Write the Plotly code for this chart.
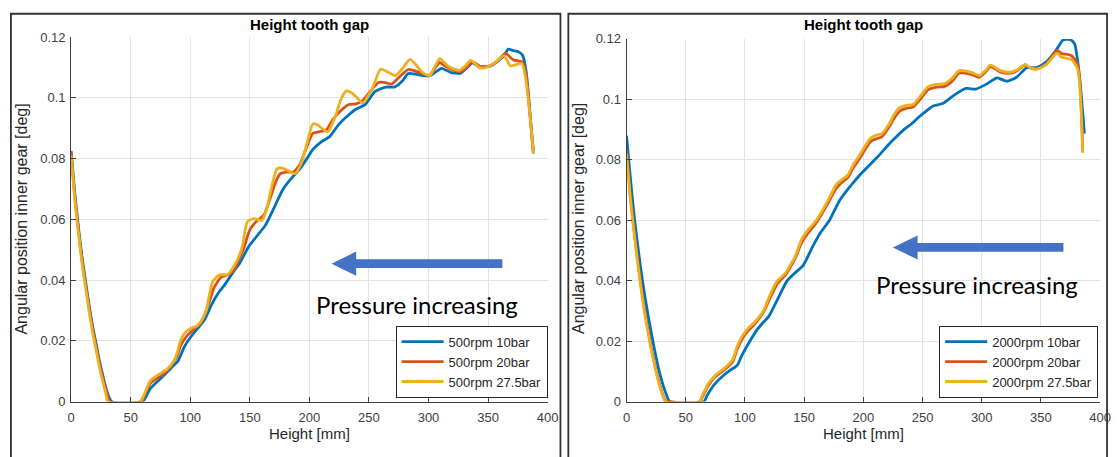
import plotly.graph_objects as go

W, H = 1120, 457

# ---------------- data ----------------
x_ticks = [0, 50, 100, 150, 200, 250, 300, 350, 400]
x_ticktext = ["0", "50", "100", "150", "200", "250", "300", "350", "400"]
y_ticks = [0, 0.02, 0.04, 0.06, 0.08, 0.10, 0.12]
y_ticktext = ["0", "0.02", "0.04", "0.06", "0.08", "0.1", "0.12"]

left_names = ["500rpm 10bar", "500rpm 20bar", "500rpm 27.5bar"]
right_names = ["2000rpm 10bar", "2000rpm 20bar", "2000rpm 27.5bar"]

L_blue_x = [0, 3, 6, 9, 12, 15, 18, 21, 24, 27, 30, 34, 60, 62, 66, 73, 80, 85, 90, 95, 101, 106,
            112, 118, 124, 129, 135, 142, 149, 156, 163, 170, 178, 185, 192, 198, 203, 210, 217, 225,
            232, 239, 247, 255, 264, 272, 278, 283, 291, 301, 306, 311, 319, 327, 332, 337, 342, 352,
            358, 363, 367, 371, 375, 379, 382, 385, 388]
L_blue_y = [0.0825, 0.069, 0.058, 0.048, 0.040, 0.032, 0.025, 0.019, 0.013, 0.008, 0.0035, 0,
            0, 0.001, 0.004, 0.0068, 0.0095, 0.0115, 0.0135, 0.018, 0.0216, 0.024,
            0.0269, 0.032, 0.036, 0.0385, 0.042, 0.0459, 0.051, 0.0545, 0.058, 0.0635,
            0.070, 0.0735, 0.0766, 0.080, 0.083, 0.0855, 0.0872, 0.0914, 0.094, 0.0962,
            0.0978, 0.102, 0.1035, 0.1036, 0.1055, 0.108, 0.1076, 0.1072, 0.1085, 0.1097,
            0.1083, 0.1081, 0.1098, 0.1115, 0.1103, 0.1105, 0.112, 0.1136, 0.116, 0.1155,
            0.1152, 0.114, 0.1085, 0.096, 0.0825]

L_red_x = [0, 3, 6, 9, 12, 15, 18, 21, 24, 27, 30, 32.5, 59, 61.5, 66.5, 73, 80, 85, 89, 92, 97, 103,
           108, 113, 117, 120, 126, 132, 137, 141, 145, 150, 156, 162, 168, 172, 175.6, 181, 186.6,
           192, 197, 203, 208, 214, 220, 227, 233, 239, 244, 251, 258, 264, 269, 276, 283, 291, 301,
           305, 309.5, 314, 319, 327, 332, 337, 344, 352, 358, 364.6, 371.5, 378.4, 382, 385, 388]
L_red_y = [0.082, 0.068, 0.057, 0.047, 0.039, 0.031, 0.024, 0.018, 0.012, 0.007, 0.003, 0,
           0, 0.002, 0.006, 0.008, 0.010, 0.0125, 0.015, 0.0185, 0.0215, 0.0238,
           0.0255, 0.0295, 0.034, 0.0375, 0.041, 0.0418, 0.0435, 0.047, 0.0505, 0.0565,
           0.0595, 0.0615, 0.068, 0.0725, 0.075, 0.0755, 0.0756, 0.078, 0.083, 0.0883,
           0.0888, 0.0893, 0.093, 0.096, 0.0978, 0.098, 0.0988, 0.102, 0.105, 0.105,
           0.1045, 0.107, 0.1093, 0.1085, 0.1074, 0.1095, 0.1116, 0.1104, 0.1094, 0.1086,
           0.110, 0.1118, 0.1102, 0.1105, 0.1122, 0.1146, 0.1124, 0.1118, 0.1073, 0.095,
           0.0816]

L_yel_x = [0, 3, 6, 9, 12, 15, 18, 21, 24, 27, 29, 31, 58, 61, 66.5, 73.4, 80, 86, 89, 91.4, 95.5,
           101, 106, 110, 113.5, 116, 119, 124.5, 131.4, 135.5, 140, 143.8, 148, 153.5, 160.4, 164.5,
           168, 172.8, 177.5, 183, 188, 193.5, 198, 203, 207, 211, 215.6, 222.5, 226, 230.8, 236,
           240, 244.6, 252.9, 259.8, 266.7, 272.2, 277.7, 284.6, 291.5, 296, 301.2, 305, 309.5,
           316.4, 321, 326, 331, 335.6, 342.5, 347, 352.2, 358, 363.3, 368.8, 374.3, 378.4, 381.2,
           385, 388]
L_yel_y = [0.081, 0.067, 0.056, 0.046, 0.038, 0.030, 0.023, 0.017, 0.011, 0.006, 0.003, 0,
           0, 0.002, 0.0068, 0.0089, 0.0105, 0.0131, 0.016, 0.0195, 0.0226, 0.0242,
           0.025, 0.027, 0.030, 0.035, 0.0396, 0.0417, 0.0418, 0.0438, 0.047, 0.0512,
           0.0592, 0.0602, 0.0597, 0.0639, 0.070, 0.0766, 0.0768, 0.0758, 0.075, 0.0787,
           0.085, 0.0914, 0.091, 0.0898, 0.0888, 0.0946, 0.099, 0.1022, 0.1015, 0.100,
           0.0983, 0.1031, 0.1094, 0.1083, 0.1073, 0.1094, 0.1126, 0.1099, 0.108, 0.1073,
           0.110, 0.1129, 0.1104, 0.1095, 0.109, 0.1105, 0.1123, 0.110, 0.1098, 0.1107,
           0.1122, 0.1139, 0.1105, 0.111, 0.1113, 0.1073, 0.095, 0.0816]

R_blue_x = [0, 3, 6, 9, 12, 15, 18, 21, 24, 27, 30, 33, 36.5, 65.3, 68, 74.2, 82.5, 88, 93.6, 97,
            101.9, 110.3, 115, 120, 127, 135.3, 142, 149.2, 157.5, 164, 171.4, 179.7, 186, 192.2,
            200, 207.5, 214, 220, 227, 235.3, 241, 246.4, 252, 259, 267, 277, 286.7, 295, 304.7,
            313, 321.4, 329.7, 338, 346.4, 354.7, 363, 368.6, 374.2, 378.3, 382.5, 386.7]
R_blue_y = [0.088, 0.075, 0.063, 0.053, 0.044, 0.036, 0.029, 0.0225, 0.0165, 0.011, 0.0065, 0.003, 0,
            0, 0.002, 0.0057, 0.0089, 0.0105, 0.0121, 0.015, 0.0185, 0.0238, 0.026, 0.0281,
            0.0334, 0.0398, 0.0425, 0.0451, 0.0515, 0.056, 0.060, 0.0664, 0.0698, 0.0728,
            0.0762, 0.0792, 0.0818, 0.0845, 0.0873, 0.0903, 0.092, 0.094, 0.0958, 0.0978,
            0.0986, 0.1015, 0.1036, 0.1034, 0.1052, 0.1071, 0.106, 0.1074, 0.1105, 0.1105,
            0.1124, 0.1164, 0.1196, 0.1198, 0.1185, 0.1079, 0.0887]

R_rest_x = [0, 3, 6, 9, 12, 15, 18, 21, 24, 27, 30, 33, 61.7, 64, 68.6, 74.2, 82.5, 89.4, 93.6, 97.8,
            102, 107.5, 112, 115.8, 121.4, 127, 134, 138, 142.2, 147.8, 153.3, 160.3, 165, 170, 177,
            182, 186.7, 191, 196.4, 206, 210, 215.8, 222, 226, 231, 236, 242, 248, 254.7, 261, 268.6,
            275, 281, 290.8, 297.8, 303, 307.5, 315.8, 324, 330, 336.7, 341, 346.4, 354.7, 363.6,
            367.2, 375.6, 381, 385.3]
R_red_y = [0.083, 0.069, 0.058, 0.048, 0.039, 0.031, 0.024, 0.0175, 0.012, 0.007, 0.003, 0.0003,
           0, 0.0015, 0.005, 0.008, 0.0105, 0.013, 0.0175, 0.0208, 0.0232, 0.0253, 0.0275,
           0.0297, 0.0345, 0.0388, 0.0418, 0.0443, 0.0472, 0.0525, 0.0558, 0.0592, 0.0622,
           0.0655, 0.0705, 0.0726, 0.074, 0.077, 0.0802, 0.086, 0.0868, 0.0877, 0.091, 0.0938,
           0.0962, 0.097, 0.0975, 0.100, 0.1032, 0.104, 0.1043, 0.106, 0.1087, 0.1083, 0.1073,
           0.109, 0.1108, 0.109, 0.1087, 0.1095, 0.1114, 0.1104, 0.110, 0.1118, 0.1162, 0.1152,
           0.1145, 0.1115, 0.083]
R_yel_y = [0.082, 0.068, 0.057, 0.047, 0.038, 0.030, 0.023, 0.017, 0.0115, 0.0065, 0.0025, 0,
           0, 0.002, 0.0057, 0.0084, 0.011, 0.0137, 0.0185, 0.0217, 0.024, 0.026, 0.028,
           0.0302, 0.0355, 0.0398, 0.0424, 0.045, 0.0478, 0.0536, 0.0568, 0.060, 0.063,
           0.0664, 0.0717, 0.0735, 0.0749, 0.078, 0.0813, 0.0871, 0.088, 0.0887, 0.092, 0.095,
           0.0973, 0.098, 0.0983, 0.101, 0.1042, 0.105, 0.1052, 0.107, 0.1095, 0.109, 0.1079,
           0.1095, 0.1113, 0.1095, 0.109, 0.1098, 0.1116, 0.1105, 0.110, 0.1116, 0.1153, 0.114,
           0.1132, 0.110, 0.0823]

colors = ["#0072BD", "#D95319", "#EDB120"]

# --------------- figure ---------------
fig = go.Figure()

left_series = [(L_blue_x, L_blue_y), (L_red_x, L_red_y), (L_yel_x, L_yel_y)]
right_series = [(R_blue_x, R_blue_y), (R_rest_x, R_red_y), (R_rest_x, R_yel_y)]

for (xs, ys), name, c in zip(left_series, left_names, colors):
    fig.add_trace(go.Scatter(x=xs, y=ys, mode="lines", name=name,
                             line=dict(color=c, width=2.8, shape="spline", smoothing=0.6),
                             xaxis="x", yaxis="y", legend="legend"))
for (xs, ys), name, c in zip(right_series, right_names, colors):
    fig.add_trace(go.Scatter(x=xs, y=ys, mode="lines", name=name,
                             line=dict(color=c, width=2.8, shape="spline", smoothing=0.6),
                             xaxis="x2", yaxis="y2", legend="legend2"))


def px(v):
    return v / W


def py(v):
    return 1 - v / H


tickfont = dict(family="Liberation Sans, Arial", size=13, color="#404040")
axcommon = dict(showgrid=True, gridcolor="#e3e3e3", gridwidth=1, zeroline=False,
                showline=True, linecolor="#404040", linewidth=1,
                ticks="inside", ticklen=5, tickcolor="#404040", tickfont=tickfont)

legfont = dict(family="Liberation Sans, Arial", size=13, color="#262626")
fig.update_layout(
    width=W, height=H,
    margin=dict(l=0, r=0, t=0, b=0),
    paper_bgcolor="white", plot_bgcolor="white",
    xaxis=dict(domain=[px(68), px(551)], range=[0, 400], anchor="y",
               tickvals=x_ticks, ticktext=x_ticktext, ticklabelstandoff=4, **axcommon),
    yaxis=dict(domain=[py(408), py(31)], range=[0, 0.12], anchor="x",
               tickvals=y_ticks, ticktext=y_ticktext, ticklabelstandoff=2, **axcommon),
    xaxis2=dict(domain=[px(631), px(1111)], range=[0, 400], anchor="y2",
                tickvals=x_ticks, ticktext=x_ticktext, ticklabelstandoff=4, **axcommon),
    yaxis2=dict(domain=[py(408), py(33)], range=[0, 0.12], anchor="x2",
                tickvals=y_ticks, ticktext=y_ticktext, ticklabelstandoff=2, **axcommon),
    legend=dict(x=px(551), y=py(404), xanchor="right", yanchor="bottom",
                bgcolor="white", bordercolor="#262626", borderwidth=1,
                font=legfont, itemwidth=42, tracegroupgap=0),
    legend2=dict(x=px(1109), y=py(404), xanchor="right", yanchor="bottom",
                 bgcolor="white", bordercolor="#262626", borderwidth=1,
                 font=legfont, itemwidth=42, tracegroupgap=0),
    showlegend=True,
)

lab = dict(family="Liberation Sans, Arial", size=15, color="#262626")
ylab = dict(family="Liberation Sans, Arial", size=16, color="#262626")
annots = []
for xc in [(68 + 551) / 2, (631 + 1111) / 2]:
    annots.append(dict(x=px(xc), y=py(18), xref="paper", yref="paper",
                       xanchor="center", yanchor="middle",
                       text="<b>Height tooth gap</b>", showarrow=False,
                       font=dict(family="Liberation Sans, Arial", size=15, color="black")))
    annots.append(dict(x=px(xc), y=py(441), xref="paper", yref="paper",
                       xanchor="center", yanchor="middle",
                       text="Height [mm]", showarrow=False, font=lab))
for xl in [18, 583]:
    annots.append(dict(x=px(xl), y=py(219), xref="paper", yref="paper",
                       xanchor="center", yanchor="middle",
                       text="Angular position inner gear [deg]", showarrow=False,
                       textangle=-90, font=ylab))

# "Pressure increasing" labels
arrow_color = "#4472C4"
txtfont = dict(family="Lato, Open Sans", size=24, color="black")
annots.append(dict(x=290, y=0.032, xref="x", yref="y", text="Pressure increasing",
                   xanchor="center", yanchor="middle", showarrow=False, font=txtfont))
annots.append(dict(x=296, y=0.0387, xref="x2", yref="y2", text="Pressure increasing",
                   xanchor="center", yanchor="middle", showarrow=False, font=txtfont))
fig.update_layout(annotations=annots)

shapes = []
# block arrows in axis coordinates: (tail x, head x, y center, axis refs, px per unit x, px per unit y)
arrows = [(362, 218.6, 0.0454, "x", "y", 1.2075, 3142),
          (369, 225, 0.0510, "x2", "y2", 1.2, 3125)]
for tail, head, yc, xr, yr, sx, sy in arrows:
    hl = 25 / sx      # head length
    hh = 12.5 / sy    # head half height
    sh = 4.5 / sy     # shaft half height
    path = (f"M {tail},{yc - sh} L {head + hl},{yc - sh} L {head + hl},{yc - hh} "
            f"L {head},{yc} L {head + hl},{yc + hh} L {head + hl},{yc + sh} L {tail},{yc + sh} Z")
    shapes.append(dict(type="path", path=path, xref=xr, yref=yr,
                       fillcolor=arrow_color, line=dict(width=0)))
# panel frames
shapes.append(dict(type="rect", xref="paper", yref="paper", x0=px(7), x1=px(564),
                   y0=py(470), y1=py(7), line=dict(color="#333333", width=1.8)))
shapes.append(dict(type="rect", xref="paper", yref="paper", x0=px(572), x1=px(1118),
                   y0=py(470), y1=py(7), line=dict(color="#333333", width=1.8)))
fig.update_layout(shapes=shapes)

fig.write_html("out.html")
